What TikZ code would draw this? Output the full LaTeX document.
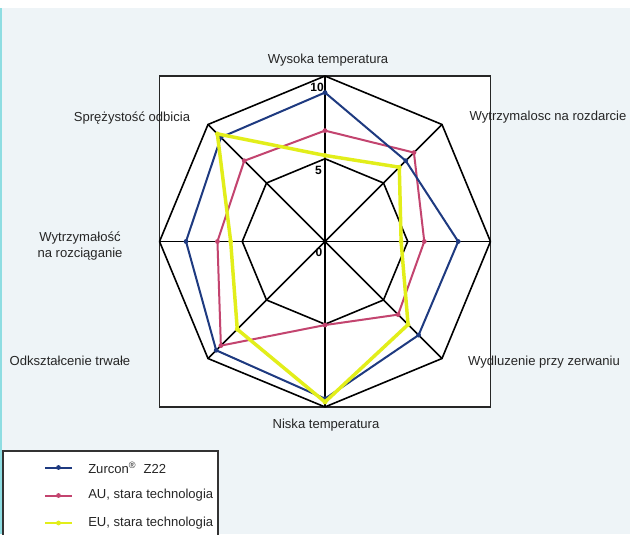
\documentclass[tikz,border=0pt]{standalone}
\usepackage{fontspec}
\setmainfont{Liberation Sans}
\definecolor{zblue}{HTML}{1E3A80}
\definecolor{aured}{HTML}{C3446F}
\definecolor{euyellow}{HTML}{E2EE1A}
\definecolor{panel}{HTML}{EEF4F7}
\definecolor{rim}{HTML}{8EDDE2}
\begin{document}
\begin{tikzpicture}[x=0.75pt,y=0.75pt]
\tikzstyle{every node}+=[inner sep=0pt,font=\fontsize{9.8}{11.6}\selectfont,text=black!85]
\tikzstyle{webline}=[black,line width=1.2pt,line join=round]
\tikzstyle{series}=[line width=1.5pt,line join=round]
\tikzstyle{mk}=[circle,fill,minimum size=3.6pt]
\tikzstyle{ticklbl}=[font=\fontsize{9}{9}\selectfont\bfseries,text=black]
\useasboundingbox (-325,-292.5) rectangle (305,241.5);
% background
\fill [white] (-325,-292.5) rectangle (305,241.5);
\fill [panel] (-323,-292.5) rectangle (305,233.5);
\draw [rim,line width=1.5pt] (-324,-292.5) -- (-324,233.5);
% chart frame
\draw [black!85,fill=white,line width=1.2pt] (-165.5,-165.5) rectangle (165.5,165.5);
\begin{scope}[x=12.41pt,y=12.41pt]
\draw [webline] (90:10) -- (45:10) -- (0:10) -- (-45:10) -- (-90:10) -- (-135:10) -- (180:10) -- (135:10) -- cycle;
\draw [webline] (90:5) -- (45:5) -- (0:5) -- (-45:5) -- (-90:5) -- (-135:5) -- (180:5) -- (135:5) -- cycle;
\draw [webline] (90:10) -- (-90:10);
\draw [webline] (0:10) -- (180:10);
\draw [webline] (45:10) -- (-135:10);
\draw [webline] (135:10) -- (-45:10);
\fill [black] (0,0) circle (1.6pt);
% series
\draw [series,aured] (90:6.7) node[mk]{} -- (45:7.6) node[mk]{} -- (0:6) node[mk]{} -- (-45:6.25) node[mk]{} -- (-90:5.05) node[mk]{} -- (-135:8.9) node[mk]{} -- (180:6.5) node[mk]{} -- (135:6.9) node[mk]{} -- cycle;
\draw [series,zblue] (90:9) node[mk]{} -- (45:6.9) node[mk]{} -- (0:8.05) node[mk]{} -- (-45:8) node[mk]{} -- (-90:9.5) node[mk]{} -- (-135:9.3) node[mk]{} -- (180:8.4) node[mk]{} -- (135:8.9) node[mk]{} -- cycle;
\draw [series,euyellow,line width=2.6pt] (90:5.2) node[mk]{} -- (45:6.35) node[mk]{} -- (0:4.6) node[mk]{} -- (-45:7.1) node[mk]{} -- (-90:9.7) node[mk]{} -- (-135:7.5) node[mk]{} -- (180:5.7) node[mk]{} -- (135:9.2) node[mk]{} -- cycle;
\end{scope}
% scale numbers
\node [ticklbl] (t10) at (-8,154) {10};
\node [ticklbl] (t5) at (-6.5,71.5) {5};
\node [ticklbl] (t0) at (-6,-10.5) {0};
% axis labels
\node (hightemp) at (3,181.5) {Wysoka temperatura};
\node (tear) at (223,124.5) {Wytrzymalosc na rozdarcie};
\node (elong) at (219,-120.5) {Wydluzenie przy zerwaniu};
\node (lowtemp) at (1,-183.5) {Niska temperatura};
\node (compset) at (-255,-119.5) {Odkształcenie trwałe};
\node (tensile) [align=center] at (-245,-4.5) {Wytrzymałość\\na rozciąganie};
\node (rebound) at (-193,123.5) {Sprężystość odbicia};
% legend
\draw [black!80,fill=white,line width=1.1pt] (-322,-296) -- (-322,-209.5) -- (-107,-209.5) -- (-107,-296);
\coordinate (lz) at (-266.5,-226);
\coordinate (la) at (-266.5,-254);
\coordinate (le) at (-266.5,-281.5);
\draw [zblue,line width=1.5pt] ([xshift=-10pt]lz) -- ([xshift=10pt]lz);
\node [mk,zblue] (mz) at (lz) {};
\draw [aured,line width=1.5pt] ([xshift=-10pt]la) -- ([xshift=10pt]la);
\node [mk,aured] (ma) at (la) {};
\draw [euyellow,line width=2.2pt] ([xshift=-10pt]le) -- ([xshift=10pt]le);
\node [mk,euyellow] (me) at (le) {};
\node [anchor=west] (tz) at (-237,-226) {Zurcon\textsuperscript{\textregistered}\ \ Z22};
\node [anchor=west] (ta) at (-237,-254) {AU, stara technologia};
\node [anchor=west] (te) at (-237,-281.5) {EU, stara technologia};
\end{tikzpicture}
\end{document}
